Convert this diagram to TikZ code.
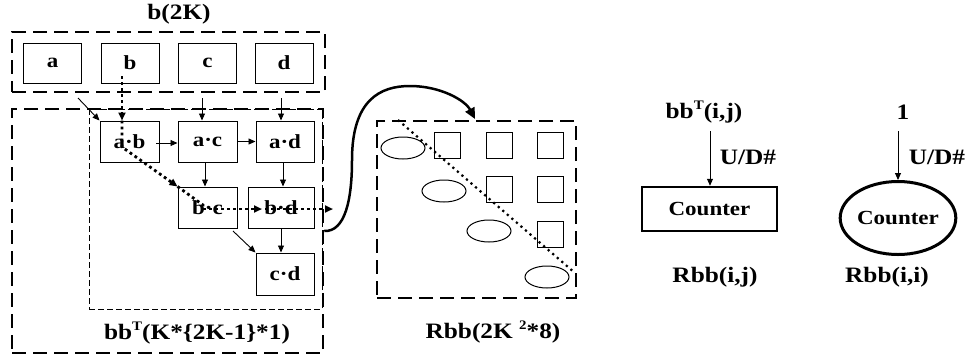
\documentclass[tikz,border=0pt]{standalone}
\usepackage{fontspec}
\setmainfont{Liberation Serif}[FakeStretch=1.15]
\usetikzlibrary{arrows.meta,shapes.geometric}
\newcommand{\mysup}[1]{\raisebox{0.42em}{\fontsize{13}{13}\selectfont\bfseries #1}}
\tikzset{
  every node/.style={font=\bfseries},
  big/.style={font=\fontsize{22}{24}\selectfont\bfseries, inner sep=0pt},
  mid/.style={font=\fontsize{20}{22}\selectfont\bfseries},
  cell/.style={draw, line width=1pt, inner sep=0pt, minimum width=58pt, minimum height=40pt, mid},
  sq/.style={draw, line width=1pt, inner sep=0pt, minimum width=26pt, minimum height=26pt},
  ell/.style={draw, ellipse, line width=1pt, inner sep=0pt, minimum width=44pt, minimum height=22pt},
  thickdash/.style={draw, line width=2.5pt, dash pattern=on 14pt off 7pt, inner sep=0pt},
  thindash/.style={draw, line width=0.8pt, dash pattern=on 6pt off 3pt, inner sep=0pt},
  arr/.style={line width=0.9pt, -{Triangle[length=7pt,width=6pt]}},
  dotln/.style={line width=2.8pt, dash pattern=on 2.8pt off 3.2pt},
  dotarr/.style={dotln, -{Triangle[length=8pt,width=7pt]}},
}
\begin{document}
\begin{tikzpicture}[x=1pt,y=-1pt]
\useasboundingbox (0,0) rectangle (969,362);
% top group
\node[big] (title) at (179,14) {b(2K)};
\node[thickdash, minimum width=313pt, minimum height=60pt] (topbox) at (168.5,62) {};
\node[cell] (a) at (52.5,63) {a};
\node[cell] (b) at (130,63) {b};
\node[cell] (c) at (207.5,63) {c};
\node[cell] (d) at (284,63) {d};
% bbT group
\node[thickdash, minimum width=311pt, minimum height=244pt] (outer) at (167.5,231) {};
\node[thindash, minimum width=233pt, minimum height=200pt] (inner) at (205.5,209) {};
\node[cell, minimum width=59pt, minimum height=41pt] (ab) at (129.5,141.5) {a·b};
\node[cell, minimum width=59pt, minimum height=41pt] (ac) at (207.5,141.5) {a·c};
\node[cell, minimum width=58pt, minimum height=41pt] (ad) at (285,141.5) {a·d};
\node[cell, minimum width=59pt, minimum height=41pt] (bc) at (207.5,207.5) {b·c};
\node[cell, minimum width=66pt, minimum height=41pt] (bd) at (281,207.5) {b·d};
\node[cell, minimum width=58pt, minimum height=42pt] (cd) at (285,274) {c·d};
\node[big] (lblA) at (197,333) {bb\mysup{T}(K*\{2K-1\}*1)};
% connectors
\coordinate (a1) at (78,98);
\coordinate (c1) at (202,98);
\coordinate (d1) at (281,98);
\coordinate (abE) at (156,143);
\draw[arr] (a1) -- (ab.north west);
\draw[arr] (c1) -- (c1 |- ac.north);
\draw[arr] (d1) -- (d1 |- ad.north);
\draw[arr] (abE) -- (abE -| ac.west);
\draw[arr] (ac.east) -- (ad.west);
\coordinate (acS) at (205,162);
\draw[arr] (acS) -- (acS |- bc.north);
\coordinate (adS) at (283,162);
\draw[arr] (adS) -- (adS |- bd.north);
\coordinate (bdS) at (281,228);
\draw[arr] (bdS) -- (bdS |- cd.north);
\coordinate (bcSE) at (233,231);
\draw[arr] (bcSE) -- (cd.north west);
% dotted path
\coordinate (b1) at (122,76);
\coordinate (p1) at (122,147);
\coordinate (p2) at (203,205);
\coordinate (p3) at (203,209);
\coordinate (p4) at (262,209);
\coordinate (p5) at (265,209);
\coordinate (p6) at (333,209);
\draw[dotarr] (b1) -- (b1 |- ab.north);
\draw[dotarr] (b1 |- ab.north) -- (p1) -- (bc.north west);
\draw[dotln] (bc.north west) -- (p2) -- (p3);
\draw[dotarr] (p3) -- (p4);
\draw[dotarr] (p5) -- (p6);
% Rbb matrix
\node[thickdash, minimum width=199pt, minimum height=177pt] (rbb) at (476.5,209.5) {};
\node[sq] (s12) at (447,145) {};
\node[sq] (s13) at (499,145) {};
\node[sq] (s14) at (550,145) {};
\node[sq] (s23) at (499,189.5) {};
\node[sq] (s24) at (550,189.5) {};
\node[sq] (s34) at (550,234) {};
\node[ell] (e1) at (403,148) {};
\node[ell] (e2) at (444,191) {};
\node[ell] (e3) at (489,231) {};
\node[ell] (e4) at (547,277) {};
\coordinate (q1) at (398,120);
\coordinate (q2) at (575,273);
\draw[line width=2.2pt, dash pattern=on 2.2pt off 3.8pt] (q1) -- (q2);
\node[big] (lblB) at (493,332) {Rbb(2K \mysup{2}*8)};
% curve
\coordinate (tip) at (475,119);
\draw[line width=2.5pt, -{Triangle[length=11pt,width=10pt]}]
  (outer.east) .. controls (345,232) and (352,200) .. (352,160)
  .. controls (352,100) and (380,86) .. (410,86)
  .. controls (440,86) and (465,100) .. (tip);
% right side
\node[big] (lij) at (704,112) {bb\mysup{T}(i,j)};
\node[draw, line width=2.5pt, minimum width=135pt, minimum height=44pt, inner sep=0pt, mid] (cnt1) at (709.5,209) {Counter};
\coordinate (r1) at (710,131);
\draw[arr] (r1) -- (r1 |- cnt1.north);
\node[big] (ud1) at (748,157) {U/D\#};
\node[big] (rij) at (715,277) {Rbb(i,j)};
\node[big] (one) at (903,112) {1};
\node[draw, ellipse, line width=3pt, minimum width=113pt, minimum height=73pt, inner sep=0pt, mid] (cnt2) at (898,218) {Counter};
\coordinate (r2) at (898,131);
\draw[arr] (r2) -- (cnt2.north);
\node[big] (ud2) at (937,157) {U/D\#};
\node[big] (rii) at (887,277) {Rbb(i,i)};
\end{tikzpicture}
\end{document}
